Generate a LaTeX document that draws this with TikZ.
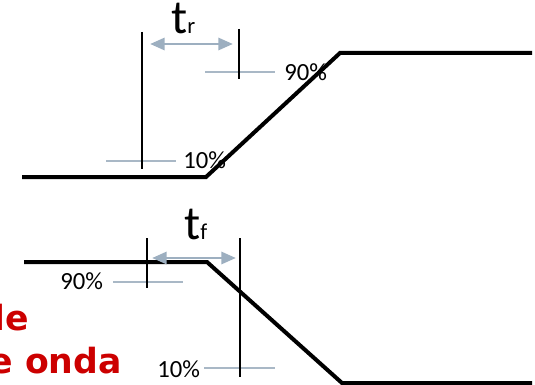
\documentclass[tikz,border=0pt]{standalone}
\usepackage{fontspec}
\setmainfont{Carlito}
\newfontfamily\capfont{DejaVu Sans}
\usetikzlibrary{arrows.meta}
\definecolor{levelgrey}{HTML}{A9B8C6}
\definecolor{spangrey}{HTML}{9DAFC0}
\definecolor{capred}{HTML}{CC0000}

\begin{document}
\begin{tikzpicture}[x=0.75pt, y=-0.75pt, line join=miter,
  wave/.style={line width=3pt},
  marker/.style={line width=1pt},
  level/.style={levelgrey, line width=1.4pt},
  span/.style={spangrey, line width=2.2pt,
    {Triangle[length=11pt, width=9pt]}-{Triangle[length=11pt, width=9pt]}},
  pct/.style={inner sep=0pt, font=\fontsize{18.5}{20}\selectfont},
  capt/.style={inner sep=0pt, text=capred, font=\capfont\bfseries\fontsize{26}{28}\selectfont}]
  \useasboundingbox (0,0) rectangle (535,385);
  \clip (0,0) rectangle (535,385);

  % rising edge
  \coordinate (rlo) at (22,177);
  \coordinate (rk1) at (206,177);
  \coordinate (rk2) at (340,53);
  \coordinate (rhi) at (532,53);
  \draw[wave] (rlo) -- (rk1) -- (rk2) -- (rhi);

  % falling edge
  \coordinate (fhi) at (24,262);
  \coordinate (fk1) at (207,262);
  \coordinate (fk2) at (342,383);
  \coordinate (flo) at (532,383);
  \draw[wave] (fhi) -- (fk1) -- (fk2) -- (flo);

  % 10% / 90% levels
  \foreach \xa/\xb/\y in {106/176/161, 205/275/72, 113/183/282, 204/275/368}
    \draw[level] (\xa,\y) -- (\xb,\y);
  \node[pct, anchor=base west] (r10) at (183,168) {10\%};
  \node[pct, anchor=base west] (r90) at (284,80) {90\%};
  \node[pct, anchor=base west] (f90) at (60,289) {90\%};
  \node[pct, anchor=base west] (f10) at (157,377) {10\%};

  % markers
  \coordinate (ra1) at (142,32);  \coordinate (ra2) at (142,169);
  \coordinate (rb1) at (239,29);  \coordinate (rb2) at (239,79);
  \coordinate (fa1) at (147,238); \coordinate (fa2) at (147,288);
  \coordinate (fb1) at (240,238); \coordinate (fb2) at (240,377);
  \foreach \m in {ra, rb, fa, fb}
    \draw[marker] (\m1) -- (\m2);

  % rise and fall times
  \coordinate (rs1) at (150,44); \coordinate (rs2) at (233,44);
  \coordinate (fs1) at (152,258); \coordinate (fs2) at (236,258);
  \draw[span] (rs1) -- (rs2);
  \draw[span] (fs1) -- (fs2);
  \node[inner sep=0pt, anchor=base west] (tr) at (171,34)
    {\fontsize{36}{38}\selectfont t{\fontsize{17}{18}\selectfont r}};
  \node[inner sep=0pt, anchor=base west] (tf) at (184,239)
    {\fontsize{36}{38}\selectfont t{\fontsize{17}{18}\selectfont f}};

  % caption, cut at the left edge
  \node[capt, anchor=base east] (cap1) at (29,330) {de};
  \node[capt, anchor=base east] (cap2) at (122,373) {de onda};
\end{tikzpicture}
\end{document}
